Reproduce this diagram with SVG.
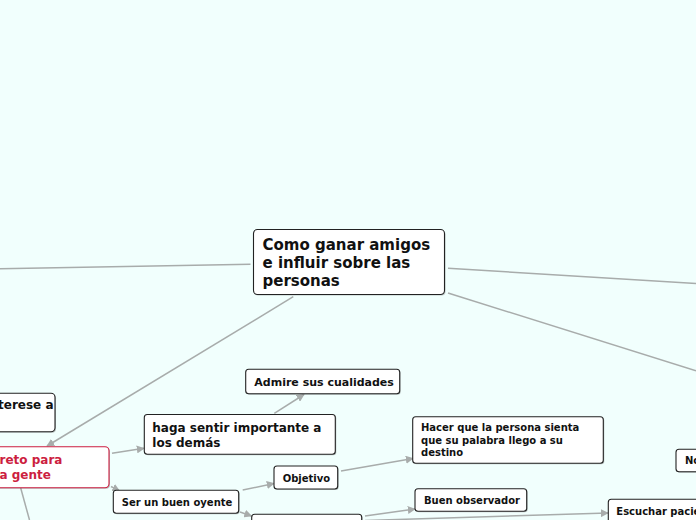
<svg xmlns="http://www.w3.org/2000/svg" width="696" height="520" viewBox="0 0 696 520">
<defs>
<style>
.bg{fill:#f1fffd}
.box{fill:#fff;stroke:#222;stroke-width:1.1}
.sh{fill:#555;opacity:0.35}
.red{fill:#fff;stroke:#cc1e40;stroke-width:1.1}
.t{font-family:"DejaVu Sans",Verdana,sans-serif;font-weight:bold;fill:#111}
.tr{font-family:"DejaVu Sans",Verdana,sans-serif;font-weight:bold;fill:#cc1e40}
.c{stroke:#a8acab;stroke-width:1.5;fill:none}
.a{marker-end:url(#arr)}
</style>
<marker id="arr" viewBox="0 0 10 10" refX="9" refY="5" markerWidth="8" markerHeight="8" markerUnits="userSpaceOnUse" orient="auto">
<path d="M0,0 L10,5 L0,10 z" fill="#a8acab"/>
</marker>
</defs>
<rect class="bg" x="0" y="0" width="696" height="520"/>
<g id="connectors">
<line class="c" x1="0" y1="268.7" x2="250.5" y2="264.3"/>
<line class="c" x1="448" y1="268.3" x2="696" y2="283.5"/>
<line class="c" x1="448" y1="293" x2="696" y2="370.7"/>
<line class="c a" x1="293.3" y1="296.7" x2="47" y2="446"/>
<line class="c a" x1="112" y1="453.3" x2="144" y2="448.3"/>
<line class="c a" x1="274.3" y1="413.3" x2="304" y2="394.5"/>
<line class="c a" x1="111" y1="486.5" x2="119.5" y2="490.8"/>
<line class="c a" x1="242.7" y1="490" x2="274" y2="483.5"/>
<line class="c a" x1="341" y1="471" x2="413" y2="458.5"/>
<line class="c a" x1="240" y1="512" x2="251.5" y2="516"/>
<line class="c a" x1="365" y1="516" x2="415" y2="509"/>
<line class="c a" x1="365" y1="520.5" x2="608" y2="513"/>
<line class="c" x1="20.7" y1="488" x2="29.5" y2="520"/>
</g>
<g id="central">
<rect class="sh" x="254.5" y="230.5" width="191" height="65" rx="4"/>
<rect class="box" x="253.5" y="229.5" width="191" height="65" rx="4"/>
<text class="t" font-size="15"><tspan x="262.5" y="250">Como ganar amigos</tspan><tspan x="262.5" y="268">e influir sobre las</tspan><tspan x="262.5" y="286">personas</tspan></text>
</g>
<g id="interese">
<rect class="sh" x="-10" y="394.3" width="66" height="38.4" rx="4"/>
<rect class="box" x="-11" y="393.3" width="66" height="38.4" rx="4"/>
<text class="t" font-size="12"><tspan x="-2" y="409">terese a</tspan></text>
</g>
<g id="secreto">
<rect class="sh" x="-10" y="447.7" width="120" height="41" rx="4"/>
<rect class="red" x="-11" y="446.7" width="120" height="41" rx="4"/>
<text class="tr" font-size="12"><tspan x="-0.5" y="464">reto para</tspan><tspan x="-0.5" y="479">a gente</tspan></text>
</g>
<g id="admire">
<rect class="sh" x="246.7" y="370.3" width="154" height="24.4" rx="3"/>
<rect class="box" x="245.7" y="369.3" width="154" height="24.4" rx="3"/>
<text class="t" font-size="11" x="254.3" y="386">Admire sus cualidades</text>
</g>
<g id="haga">
<rect class="sh" x="145.3" y="415.5" width="191" height="39.7" rx="3"/>
<rect class="box" x="144.3" y="414.5" width="191" height="39.7" rx="3"/>
<text class="t" font-size="12"><tspan x="152.3" y="432.3">haga sentir importante a</tspan><tspan x="152.3" y="447">los demás</tspan></text>
</g>
<g id="objetivo">
<rect class="sh" x="275" y="467" width="63.7" height="23" rx="3"/>
<rect class="box" x="274" y="466" width="63.7" height="23" rx="3"/>
<text class="t" font-size="10" x="282.7" y="481.7">Objetivo</text>
</g>
<g id="hacer">
<rect class="sh" x="413.7" y="417.7" width="190.6" height="46.6" rx="3"/>
<rect class="box" x="412.7" y="416.7" width="190.6" height="46.6" rx="3"/>
<text class="t" font-size="10"><tspan x="421" y="431">Hacer que la persona sienta</tspan><tspan x="421" y="443.5">que su palabra llego a su</tspan><tspan x="421" y="456">destino</tspan></text>
</g>
<g id="oyente">
<rect class="sh" x="114.3" y="491.3" width="125.4" height="23" rx="3"/>
<rect class="box" x="113.3" y="490.3" width="125.4" height="23" rx="3"/>
<text class="t" font-size="10" x="121.7" y="505.7">Ser un buen oyente</text>
</g>
<g id="bottomnode">
<rect class="sh" x="252.7" y="515.3" width="110" height="24" rx="3"/>
<rect class="box" x="251.7" y="514.3" width="110" height="24" rx="3"/>
</g>
<g id="observador">
<rect class="sh" x="416" y="489.7" width="111.7" height="22.6" rx="3"/>
<rect class="box" x="415" y="488.7" width="111.7" height="22.6" rx="3"/>
<text class="t" font-size="10" x="424" y="503.5">Buen observador</text>
</g>
<g id="escuchar">
<rect class="sh" x="609.3" y="500.3" width="120" height="30" rx="3"/>
<rect class="box" x="608.3" y="499.3" width="120" height="30" rx="3"/>
<text class="t" font-size="10" x="616.3" y="514.5">Escuchar pacie</text>
</g>
<g id="no">
<rect class="sh" x="677" y="450.3" width="60" height="22.4" rx="3"/>
<rect class="box" x="676" y="449.3" width="60" height="22.4" rx="3"/>
<text class="t" font-size="10" x="685" y="464">No</text>
</g>
</svg>
